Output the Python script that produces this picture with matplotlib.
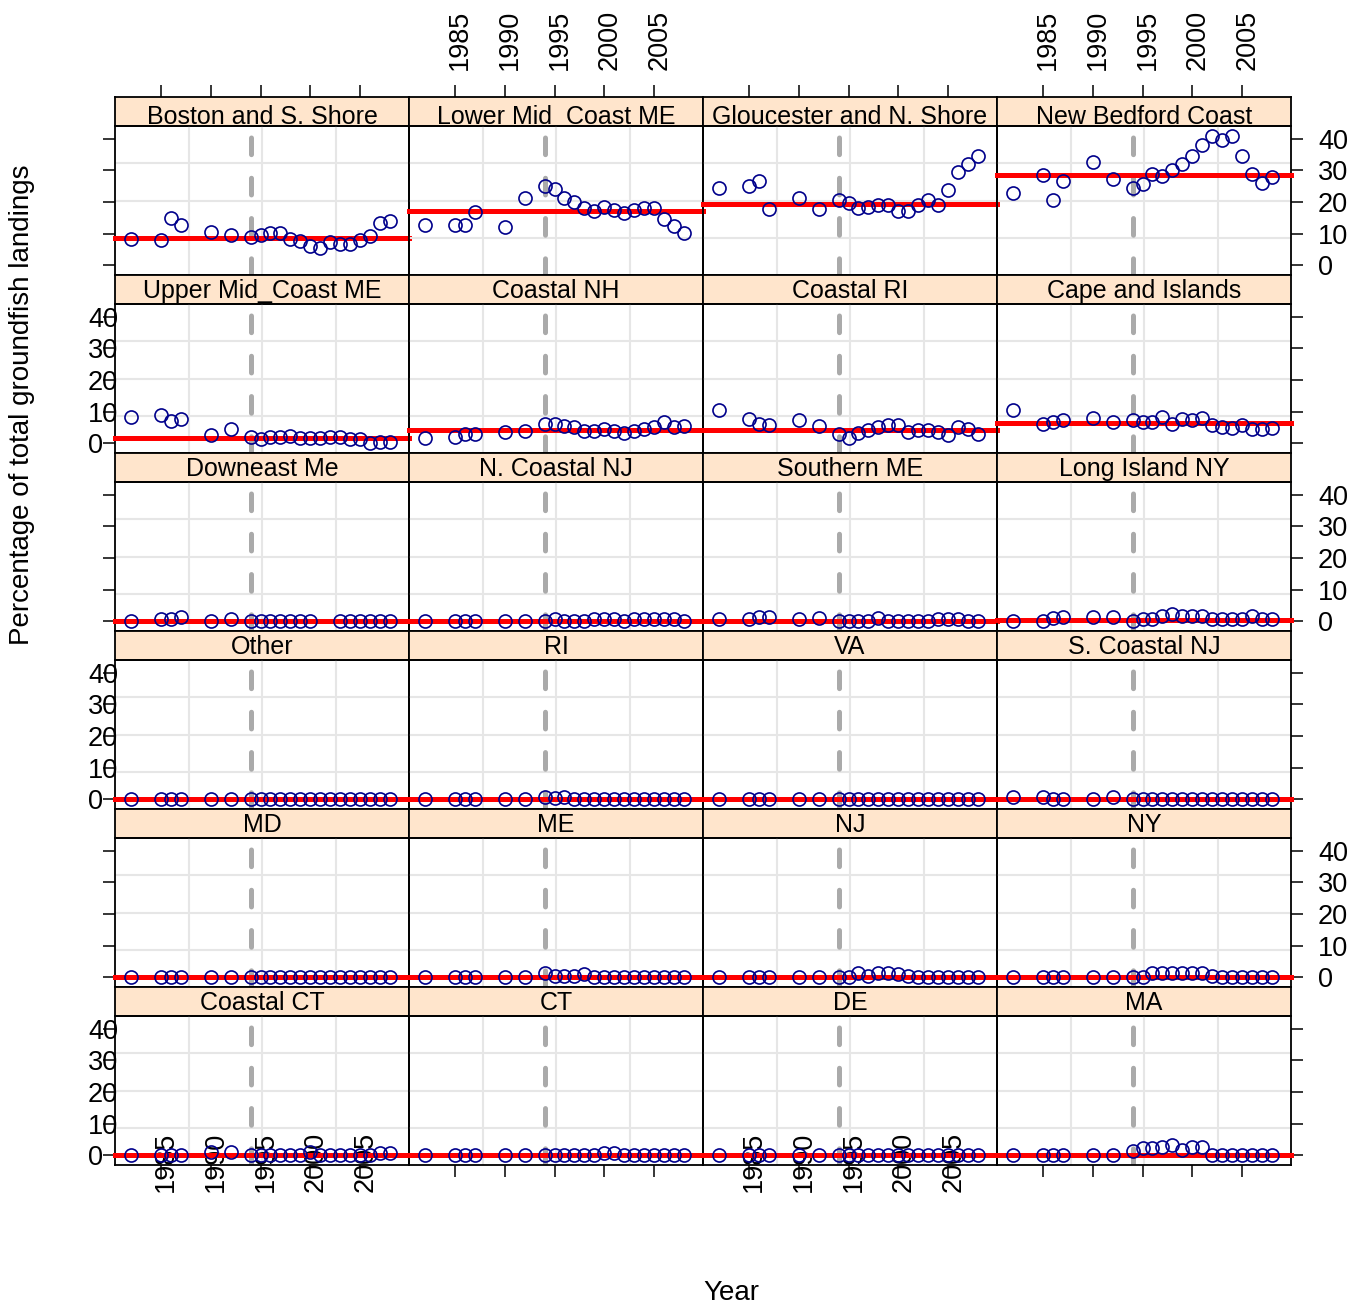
import numpy as np
import matplotlib
matplotlib.use("Agg")
import matplotlib.pyplot as plt
from matplotlib.transforms import ScaledTranslation

plt.rcParams["font.family"] = ["Liberation Sans", "DejaVu Sans"]
plt.rcParams["lines.scale_dashes"] = False

nan = np.nan

years = [1982, 1985, 1986, 1987, 1990, 1992, 1994, 1995, 1996, 1997, 1998,
         1999, 2000, 2001, 2002, 2003, 2004, 2005, 2006, 2007, 2008]
year_ticks = [1985, 1990, 1995, 2000, 2005]
pct_ticks = [0, 10, 20, 30, 40]
break_year = 1994

# percentage of total groundfish landings, by port group
boston = [8.5, 7.9, 15.0, 12.9, 10.6, 9.5, 9.0, 9.7, 10.3, 10.3, 8.5,
          7.7, 6.1, 5.5, 7.4, 6.9, 6.7, 7.9, 9.2, 13.4, 14.0]
lower_mid = [12.9, 12.9, 12.9, 16.9, 12.2, 21.2, 25.2, 24.0, 21.2, 20.1, 18.2,
             17.1, 18.5, 17.5, 16.7, 17.5, 18.0, 18.0, 14.6, 12.4, 10.3]
gloucester = [24.6, 25.2, 26.7, 17.8, 21.2, 17.8, 20.6, 19.6, 18.0, 18.3, 19.0,
              19.0, 17.1, 17.1, 19.0, 20.6, 19.0, 23.8, 29.4, 32.1, 34.4]
new_bedford = [23.0, 28.6, 20.6, 26.7, 32.8, 27.2, 24.6, 25.6, 28.9, 28.3, 30.2,
               32.1, 34.4, 38.1, 41.0, 39.5, 41.0, 34.4, 28.9, 25.9, 28.0]
upper_mid = [8.5, 8.9, 7.1, 7.8, 2.7, 4.6, 1.9, 1.3, 2.1, 2.1, 2.3,
             1.6, 1.6, 1.6, 1.9, 1.9, 1.3, 1.3, 0.0, 0.5, 0.5]
coastal_nh = [1.8, 2.1, 3.0, 3.0, 3.5, 3.9, 6.2, 6.2, 5.5, 5.1, 3.9,
              3.9, 4.6, 3.9, 3.2, 3.9, 4.6, 5.3, 6.9, 5.1, 5.5]
coastal_ri = [10.7, 7.8, 6.1, 5.7, 7.3, 5.5, 2.9, 1.8, 3.2, 4.1, 5.1,
              5.9, 5.9, 3.5, 4.1, 4.1, 3.5, 2.7, 5.1, 4.6, 2.9]
cape = [10.7, 6.1, 6.7, 7.3, 8.0, 6.9, 7.5, 6.7, 6.9, 8.5, 6.1,
        7.8, 7.3, 8.0, 5.9, 5.3, 4.8, 5.7, 4.6, 4.6, 5.0]
downeast = [0.2, 0.7, 0.7, 1.3, 0.2, 0.7, 0.1, 0.1, 0.1, 0.1, 0.1,
            0.1, 0.1, nan, nan, 0.1, 0.1, 0.1, 0.1, 0.1, 0.1]
n_coastal_nj = [0.2, 0.2, 0.2, 0.2, 0.2, 0.2, 0.0, 0.7, 0.2, 0.0, 0.2,
                0.7, 0.7, 0.7, 0.2, 0.7, 0.7, 0.7, 0.7, 0.7, 0.0]
southern_me = [0.7, 0.7, 1.3, 1.3, 0.7, 1.0, 0.2, 0.2, 0.2, 0.2, 1.0,
               0.2, 0.2, 0.2, 0.2, 0.2, 0.7, 0.7, 0.7, 0.2, 0.2]
long_island = [0.2, 0.2, 1.0, 1.5, 1.3, 1.5, 0.0, 0.7, 0.7, 1.8, 2.3,
               1.6, 1.6, 1.6, 0.7, 0.7, 0.7, 0.7, 1.8, 0.7, 0.7]
other = [0.1, 0.1, 0.1, 0.1, 0.1, 0.1, 0.1, 0.1, 0.1, 0.1, 0.1,
         0.1, 0.1, 0.1, 0.1, 0.1, 0.1, 0.1, 0.1, 0.1, 0.1]
ri = [0.1, 0.1, 0.1, 0.1, 0.1, 0.1, 0.8, 0.6, 0.8, 0.2, 0.1,
      0.1, 0.1, 0.1, 0.1, 0.1, 0.1, 0.1, 0.1, 0.1, 0.1]
va = [0.1, 0.1, 0.1, 0.1, 0.1, 0.1, 0.1, 0.1, 0.1, 0.1, 0.1,
      0.1, 0.1, 0.1, 0.1, 0.1, 0.1, 0.1, 0.1, 0.1, 0.1]
s_coastal_nj = [0.8, 0.8, 0.3, 0.1, 0.1, 0.8, 0.0, 0.1, 0.1, 0.1, 0.1,
                0.1, 0.1, 0.1, 0.1, 0.1, 0.1, 0.1, 0.1, 0.1, 0.1]
md = [0.2, 0.2, 0.2, 0.2, 0.2, 0.2, 0.2, 0.2, 0.2, 0.2, 0.2,
      0.2, 0.2, 0.2, 0.2, 0.2, 0.2, 0.2, 0.2, 0.2, 0.2]
me = [0.3, 0.3, 0.3, 0.3, 0.3, 0.3, 1.4, 0.5, 0.5, 0.5, 1.2,
      0.3, 0.3, 0.3, 0.3, 0.3, 0.3, 0.3, 0.3, 0.3, 0.3]
nj = [0.3, 0.3, 0.3, 0.3, 0.3, 0.3, 0.3, 0.3, 1.4, 0.6, 1.4,
      1.5, 1.2, 0.5, 0.3, 0.3, 0.3, 0.3, 0.3, 0.3, 0.3]
ny = [0.3, 0.3, 0.3, 0.3, 0.3, 0.3, 0.3, 0.3, 1.4, 1.4, 1.4,
      1.4, 1.4, 1.4, 0.5, 0.3, 0.3, 0.3, 0.3, 0.3, 0.3]
coastal_ct = [0.0, 0.0, 0.3, 0.0, 1.1, 1.1, 0.0, 0.3, 0.0, 0.0, 0.0,
              0.3, 1.1, 0.3, 0.0, 0.3, 0.3, 0.3, 0.3, 0.9, 0.8]
ct = [0.1, 0.1, 0.1, 0.1, 0.1, 0.1, 0.1, 0.1, 0.1, 0.1, 0.1,
      0.1, 0.8, 0.8, 0.1, 0.1, 0.1, 0.1, 0.1, 0.1, 0.1]
de = [0.1, 0.1, 0.1, 0.1, 0.1, 0.1, 0.1, 0.1, 0.1, 0.1, 0.1,
      0.1, 0.1, 0.1, 0.1, 0.1, 0.1, 0.1, 0.1, 0.1, 0.1]
ma = [0.1, 0.1, 0.1, 0.1, 0.1, 0.1, 1.4, 2.5, 2.5, 2.7, 3.2,
      1.6, 2.7, 2.7, 0.1, 0.1, 0.1, 0.1, 0.1, 0.1, 0.1]

names = ["Boston and S. Shore", "Lower Mid_Coast ME", "Gloucester and N. Shore", "New Bedford Coast",
         "Upper Mid_Coast ME", "Coastal NH", "Coastal RI", "Cape and Islands",
         "Downeast Me", "N. Coastal NJ", "Southern ME", "Long Island NY",
         "Other", "RI", "VA", "S. Coastal NJ",
         "MD", "ME", "NJ", "NY",
         "Coastal CT", "CT", "DE", "MA"]
series = [boston, lower_mid, gloucester, new_bedford,
          upper_mid, coastal_nh, coastal_ri, cape,
          downeast, n_coastal_nj, southern_me, long_island,
          other, ri, va, s_coastal_nj,
          md, me, nj, ny,
          coastal_ct, ct, de, ma]
# overall level drawn in red for each port group
levels = [8.8, 17.1, 19.3, 28.6,
          1.6, 4.1, 4.3, 6.6,
          0.1, 0.1, 0.2, 0.5,
          0.0, 0.1, 0.0, 0.0,
          0.1, 0.1, 0.1, 0.1,
          0.2, 0.1, 0.1, 0.3]

W, H = 1364, 1309
XLIM = (1980.4, 2009.9)
YLIM = (-3.0, 44.0)
FS_STRIP = 18
FS_AXIS = 19.5
TICK = dict(length=8.6, width=1.1, pad=10.8, labelsize=FS_AXIS)


def box(x, y, w, h):
    return [x / W, 1 - (y + h) / H, w / W, h / H]


fig = plt.figure(figsize=(W / 100, H / 100), dpi=100)
fig.patch.set_facecolor("white")
# rotated year labels sit a few pixels right of their ticks
nudge = ScaledTranslation(5 / 100, 0, fig.dpi_scale_trans)

for i, (name, vals, level) in enumerate(zip(names, series, levels)):
    row, col = divmod(i, 4)
    left = 115 + 294 * col
    top = 97 + 178 * row

    strip = fig.add_axes(box(left, top, 294, 29))
    strip.set_facecolor("#FFE5CC")
    strip.set_xlim(*XLIM)
    strip.set_yticks([])
    strip.text(0.5, 0.08 if row == 0 else 0.21, name, transform=strip.transAxes,
               ha="center", va="baseline", fontsize=FS_STRIP, clip_on=True)
    if row == 0:
        strip.set_xticks(year_ticks)
        strip.tick_params(axis="x", top=True, bottom=False, labeltop=col in (1, 3),
                          labelbottom=False, labelrotation=90, **TICK)
        for tk in strip.xaxis.get_major_ticks():
            tk.label2.set_transform(tk.label2.get_transform() + nudge)
    else:
        strip.set_xticks([])

    ax = fig.add_axes(box(left, top + 29, 294, 149))
    ax.set_facecolor("none")
    ax.set_xlim(*XLIM)
    ax.set_ylim(*YLIM)

    # light reference grid splitting the panel into quarters
    for k in (0.25, 0.5, 0.75):
        ax.plot([k, k], [0, 1], transform=ax.transAxes, color="#E6E6E6", lw=1.5, zorder=1)
        ax.plot([0, 1], [k, k], transform=ax.transAxes, color="#E6E6E6", lw=1.5, zorder=1)

    ax.axvline(break_year, color="#AAAAAA", lw=3.6, dashes=(12, 17),
               dash_capstyle="round", zorder=2)
    ax.axhline(level, color="red", lw=3.6, zorder=3, clip_on=False,
               solid_capstyle="projecting")
    ax.plot(years, vals, "o", mfc="none", mec="#00008B", ms=9.4, mew=1.2, zorder=4)

    if row == 5:
        ax.set_xticks(year_ticks)
        ax.tick_params(axis="x", bottom=True, labelbottom=col in (0, 2),
                       labelrotation=90, **TICK)
        for tk in ax.xaxis.get_major_ticks():
            tk.label1.set_va("bottom")
            tk.label1.set_transform(tk.label1.get_transform() + nudge)
    else:
        ax.set_xticks([])

    if col == 0:
        ax.set_yticks(pct_ticks)
        ax.tick_params(axis="y", left=True, labelleft=row % 2 == 1, **TICK)
        plt.setp(ax.get_yticklabels(), ha="left")
    elif col == 3:
        ax.set_yticks(pct_ticks)
        ax.yaxis.tick_right()
        ax.tick_params(axis="y", right=True, labelright=row % 2 == 0, **TICK)
    else:
        ax.set_yticks([])

    for a in (strip, ax):
        for sp in a.spines.values():
            sp.set_linewidth(1.3)

fig.text(22 / W, 1 - 405 / H, "Percentage of total groundfish landings",
         rotation=90, ha="center", va="center", fontsize=20)
fig.text(731 / W, 1 - 1293 / H, "Year", ha="center", va="center", fontsize=20)

fig.savefig("out.png", dpi=100)
